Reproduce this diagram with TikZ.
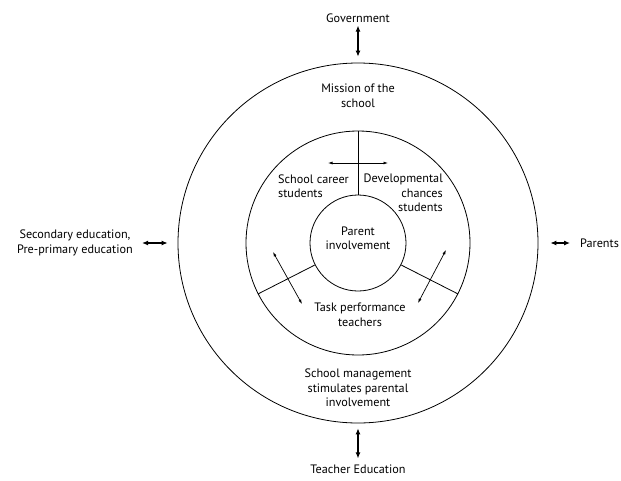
\documentclass[tikz,border=0pt]{standalone}
\usepackage{fontspec}
\setmainfont{PT Sans}
\usetikzlibrary{arrows.meta,positioning}

\begin{document}
\begin{tikzpicture}[
    x=1pt, y=-1pt,
    every node/.style={font=\fontsize{12.2}{14.5}\selectfont, align=center, inner sep=1pt},
    ring/.style={circle, draw, line width=0.8pt, minimum size=#1, inner sep=0pt},
    bigarrow/.style={{Latex[length=6pt,width=5pt]}-{Latex[length=6pt,width=5pt]}, line width=1.1pt},
    smallarrow/.style={{Latex[length=4.5pt,width=3pt]}-{Latex[length=4.5pt,width=3pt]}, line width=0.7pt}
]
\useasboundingbox (0,0) rectangle (621,480);

% rings
\node[ring=360pt] (outer) at (358,243) {};
\node[ring=224pt] (middle) at (358,243) {};
\node[ring=96pt] (inner) at (358,243) {};

% sector borders
\draw[line width=0.8pt] (inner.90) -- (middle.90);
\draw[line width=0.8pt] (inner.207) -- (middle.207);
\draw[line width=0.8pt] (inner.333) -- (middle.333);

% labels inside
\node (mission) at (358,96) {Mission of the\\school};
\node[anchor=west, align=left] (career) at (277,186) {School career\\students};
\node[anchor=east, align=right] (devel) at (444,193) {Developmental\\chances\\students};
\node (parent) at (358,238) {Parent\\involvement};
\node (task) at (360,315) {Task performance\\teachers};
\node (mgmt) at (358,388) {School management\\stimulates parental\\involvement};

% labels outside
\node (gov) at (358,18) {Government};
\node (teach) at (358,469) {Teacher Education};
\node[anchor=west] (parents) at (579,243) {Parents};
\node (secondary) at (75,243) {Secondary education,\\Pre-primary education};

% outer arrows
\draw[bigarrow, shorten <=2pt, shorten >=6pt] (gov.south) -- (outer.north);
\draw[bigarrow, shorten <=5pt, shorten >=5pt] (outer.south) -- (teach.north);
\draw[bigarrow, shorten <=12pt, shorten >=9pt] (outer.east) -- (parents.west);
\draw[bigarrow, shorten <=8pt, shorten >=10pt] (secondary.east) -- (outer.west);

% inner arrows
\coordinate (hl) at (328,163);
\coordinate (hr) at (388,163);
\coordinate (al) at (273,252);
\coordinate (bl) at (302,304);
\coordinate (ar) at (446,250);
\coordinate (br) at (418,303);
\draw[smallarrow] (hl) -- (hr);
\draw[smallarrow] (al) -- (bl);
\draw[smallarrow] (ar) -- (br);
\end{tikzpicture}
\end{document}
